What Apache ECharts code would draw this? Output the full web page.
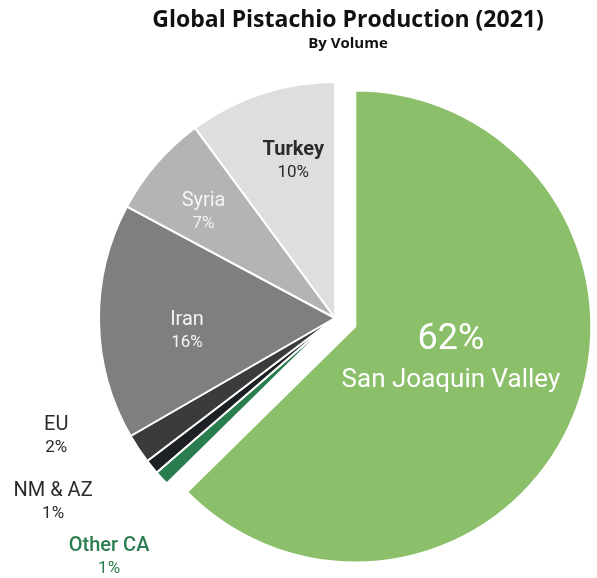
<!DOCTYPE html>
<html>
<head>
<meta charset="utf-8">
<title>Global Pistachio Production (2021)</title>
<script src="https://cdn.jsdelivr.net/npm/echarts@6/dist/echarts.min.js"></script>
<style>
  html, body { margin: 0; padding: 0; background: #fff; }
  #pie { width: 597px; height: 578px; }
</style>
</head>
<body>
<div id="pie"></div>
<script>
// 2021 pistachio production by volume, % share
var regions = ['San Joaquin Valley', 'Other CA', 'NM & AZ', 'EU', 'Iran', 'Syria', 'Turkey'];
var shares = [62, 1, 1, 2, 16, 7, 10];
var colors = ['#8bbf6a', '#2a7d4e', '#1d2125', '#3b3b3b', '#7f7f7f', '#b4b4b4', '#dedede'];

// nudge for each label from its default inside spot
var nudge = {
    'San Joaquin Valley': [-16, -14],
    'Other CA': [-137, 157],
    'NM & AZ': [-188, 108],
    'EU': [-178, 51],
    'Iran': [-27, 11],
    'Syria': [-40, -27],
    'Turkey': [-4, -42]
};

function labelFor(name) {
    if (name == 'San Joaquin Valley') {
        return {
            formatter: '{p|{c}%}\n{n|{b}}',
            rich: {
                p: { color: '#fff', fontSize: 36, lineHeight: 42, fontFamily: 'Roboto' },
                n: { color: '#fff', fontSize: 26, lineHeight: 38, fontFamily: 'Roboto' }
            }
        };
    }
    var c = '#f4f4f4', w = 'normal';
    if (name == 'Turkey') { c = '#2b2b2b'; w = 'bold'; }
    if (name == 'EU' || name == 'NM & AZ') { c = '#2b2b2b'; }
    if (name == 'Other CA') { c = '#2a7d4e'; w = 500; }
    return {
        formatter: '{n|{b}}\n{p|{c}%}',
        rich: {
            n: { color: c, fontSize: 20, fontWeight: w, lineHeight: 23, fontFamily: 'Roboto' },
            p: { color: c, fontSize: 17, fontWeight: 'normal', lineHeight: 22, fontFamily: 'Roboto' }
        }
    };
}

var pieData = regions.map(function (name, i) {
    return {
        name: name,
        value: shares[i],
        selected: i === 0,
        itemStyle: { color: colors[i] },
        label: labelFor(name)
    };
});

var pie = echarts.init(document.getElementById('pie'));
pie.setOption({
    animation: false,
    title: {
        text: 'Global Pistachio Production (2021)',
        subtext: 'By Volume',
        left: 348,
        top: 9,
        textAlign: 'center',
        padding: 0,
        itemGap: 4,
        textStyle: { fontFamily: 'Open Sans', fontWeight: 'bold', fontSize: 23, color: '#111' },
        subtextStyle: { fontFamily: 'Open Sans', fontWeight: 'bold', fontSize: 15, color: '#111' }
    },
    series: [
        {
            type: 'pie',
            center: [335, 318],
            radius: [0, 236],
            startAngle: 90,
            clockwise: true,
            selectedMode: 'single',
            selectedOffset: 22,
            avoidLabelOverlap: false,
            itemStyle: { borderColor: '#fff', borderWidth: 2 },
            label: { show: true, position: 'inside' },
            labelLine: { show: false },
            labelLayout: function (params) {
                var d = nudge[regions[params.dataIndex]];
                return { dx: d[0], dy: d[1] };
            },
            emphasis: { disabled: true },
            data: pieData
        }
    ]
});
</script>
</body>
</html>
